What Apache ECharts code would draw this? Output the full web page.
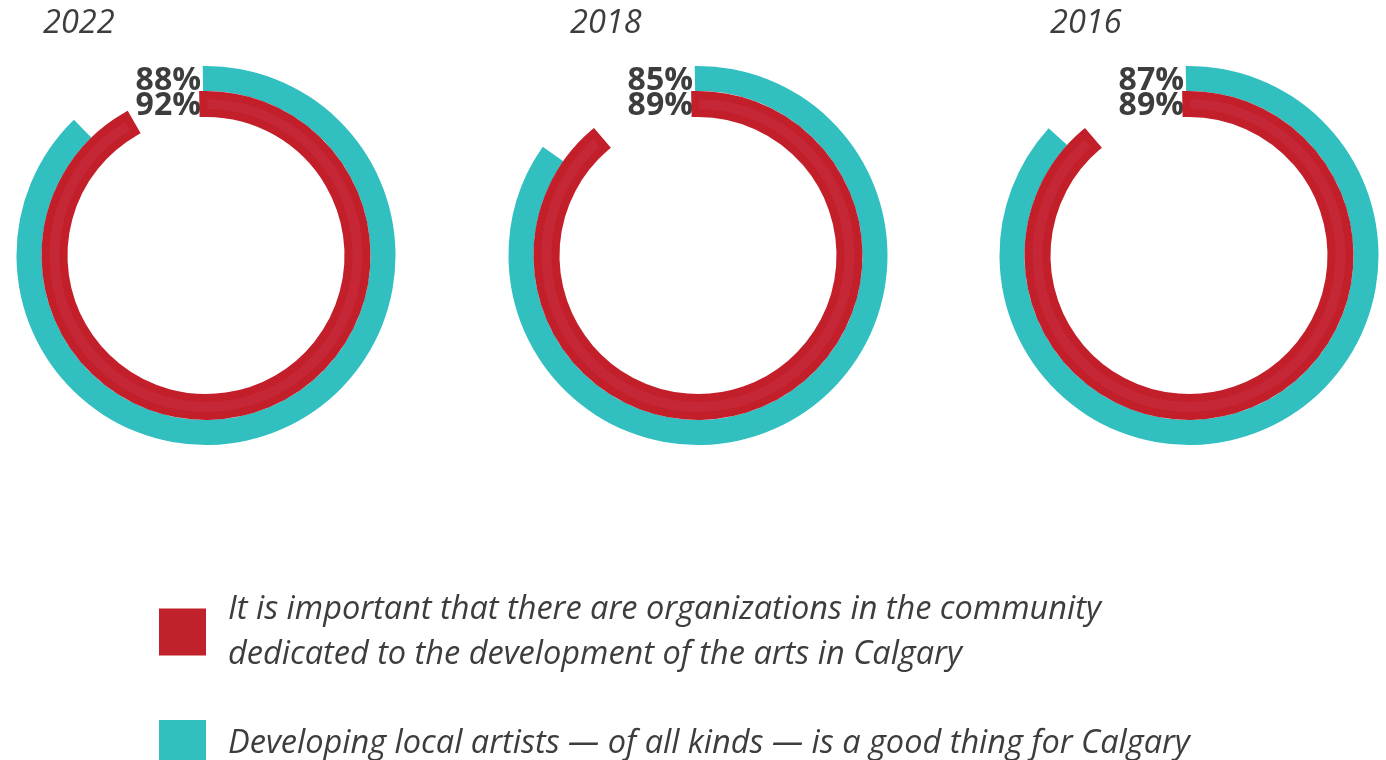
<!DOCTYPE html>
<html>
<head>
<meta charset="utf-8">
<script src="https://cdn.jsdelivr.net/npm/echarts@6/dist/echarts.min.js"></script>
<style>
  html, body { margin: 0; padding: 0; background: #ffffff; }
  #chart { width: 1386px; height: 760px; }
</style>
</head>
<body>
<div id="chart"></div>
<script>
// Survey years, one ring pair per year
const years = ['2022', '2018', '2016'];
// Share agreeing with each statement (%)
const organizationsValues = [92, 89, 89];
const artistsValues = [88, 85, 87];
const seriesNames = [
  'It is important that there are organizations in the community\ndedicated to the development of the arts in Calgary',
  'Developing local artists \u2014 of all kinds \u2014 is a good thing for Calgary'
];

const TEAL = '#31bfc0';
const RED_EDGE = '#c21f2a';
const RED_FILL = '#c52737';
const TEXT = '#3d3d3d';
const FONT = '"Open Sans", "Noto Sans", sans-serif';

// Ring layout
const centersX = [206, 698, 1189];
const titleLeft = [43, 570, 1050];
const centerY = 255.5;
const START = 91;

const series = [];
const graphics = [];

years.forEach((year, i) => {
  const center = [centersX[i], centerY];
  // Outer ring: local artists
  series.push({
    type: 'pie',
    name: year + ' artists',
    center: center,
    radius: [164.5, 189.5],
    startAngle: START,
    clockwise: true,
    silent: true,
    label: { show: false },
    labelLine: { show: false },
    emphasis: { disabled: true },
    itemStyle: { borderWidth: 0 },
    data: [
      { name: seriesNames[1], value: artistsValues[i], itemStyle: { color: TEAL } },
      { name: '', value: 100 - artistsValues[i], itemStyle: { color: 'rgba(0,0,0,0)' } }
    ]
  });
  // Inner ring: arts organizations (outlined band)
  series.push({
    type: 'pie',
    name: year + ' organizations',
    center: center,
    radius: [142.5, 160.5],
    startAngle: START,
    clockwise: true,
    silent: true,
    label: { show: false },
    labelLine: { show: false },
    emphasis: { disabled: true },
    data: [
      { name: seriesNames[0], value: organizationsValues[i],
        itemStyle: { color: RED_FILL, borderColor: RED_EDGE, borderWidth: 8, borderJoin: 'miter' } },
      { name: '', value: 100 - organizationsValues[i],
        itemStyle: { color: 'rgba(0,0,0,0)', borderWidth: 0 } }
    ]
  });

  // Year heading
  graphics.push({
    type: 'text',
    left: titleLeft[i],
    top: 7,
    style: { text: year, font: 'italic 32.5px ' + FONT, fill: TEXT }
  });
  // Value labels beside the ring start
  graphics.push({
    type: 'text',
    x: centersX[i] - 5,
    y: centerY - 175,
    style: { text: artistsValues[i] + '%', font: 'bold 32px ' + FONT, fill: TEXT,
             textAlign: 'right', textVerticalAlign: 'middle' }
  });
  graphics.push({
    type: 'text',
    x: centersX[i] - 5,
    y: centerY - 149.5,
    style: { text: organizationsValues[i] + '%', font: 'bold 32px ' + FONT, fill: TEXT,
             textAlign: 'right', textVerticalAlign: 'middle' }
  });
});

const chart = echarts.init(document.getElementById('chart'), null, { renderer: 'canvas' });
chart.setOption({
  animation: false,
  backgroundColor: '#ffffff',
  legend: {
    orient: 'vertical',
    left: 159,
    top: 587,
    padding: 0,
    itemWidth: 47,
    itemHeight: 47,
    itemGap: 43,
    icon: 'rect',
    selectedMode: false,
    data: [
      { name: seriesNames[0], itemStyle: { color: '#c1212a', borderWidth: 0 } },
      { name: seriesNames[1], itemStyle: { color: TEAL, borderWidth: 0 } }
    ],
    textStyle: {
      fontFamily: FONT,
      fontStyle: 'italic',
      fontSize: 32.5,
      lineHeight: 45,
      color: TEXT,
      padding: [0, 0, 0, 17]
    }
  },
  graphic: graphics,
  series: series
});
</script>
</body>
</html>
